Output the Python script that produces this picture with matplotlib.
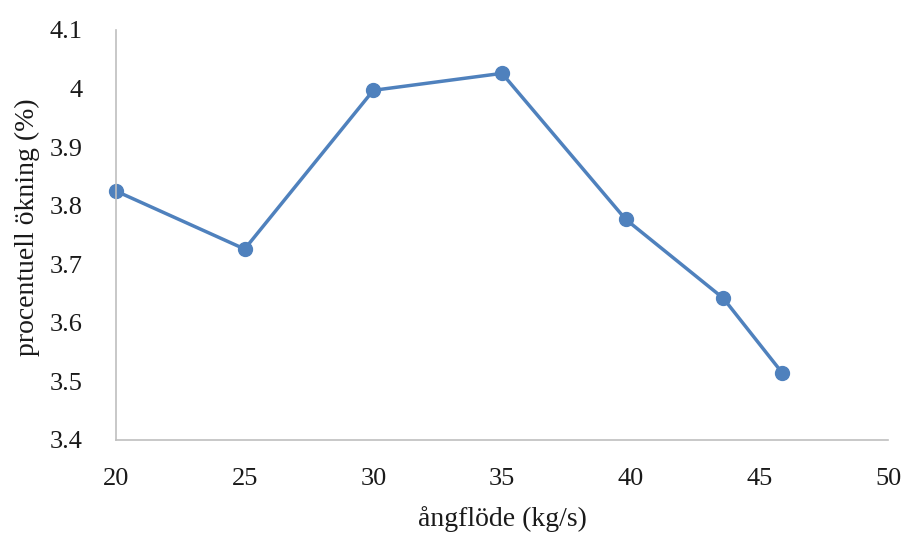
import matplotlib
matplotlib.use("Agg")
import matplotlib.pyplot as plt

# data
flow = [20, 25, 30, 35, 39.8, 43.6, 45.9]
increase = [3.825, 3.726, 3.997, 4.026, 3.777, 3.642, 3.514]

x_ticks = [20, 25, 30, 35, 40, 45, 50]
y_ticks = [3.4, 3.5, 3.6, 3.7, 3.8, 3.9, 4.0, 4.1]
y_labels = ["3.4", "3.5", "3.6", "3.7", "3.8", "3.9", "4", "4.1"]

plt.rcParams["font.family"] = ["Liberation Serif", "DejaVu Serif"]

fig = plt.figure(figsize=(9.06, 5.36), dpi=100)
ax = fig.add_axes([116 / 906, 96 / 536, 772 / 906, 410 / 536])

ax.plot(flow, increase, "-o", color="#4F81BD", linewidth=2.5,
        markersize=10, clip_on=False)

ax.set_xlim(20, 50)
ax.set_ylim(3.4, 4.1)
ax.set_xticks(x_ticks)
ax.set_yticks(y_ticks)
ax.set_yticklabels(y_labels)

for s in ["top", "right"]:
    ax.spines[s].set_visible(False)
for s in ["left", "bottom"]:
    ax.spines[s].set_color("#BFBFBF")
    ax.spines[s].set_linewidth(1.2)

ax.tick_params(axis="x", length=0, pad=20, labelsize=19, colors="#1a1a1a")
ax.tick_params(axis="y", length=0, pad=24, labelsize=19, colors="#1a1a1a")

ax.set_xlabel("ångflöde (kg/s)", fontsize=20, color="#1a1a1a")
ax.set_ylabel("procentuell ökning (%)", fontsize=20, color="#1a1a1a")
ax.xaxis.set_label_coords(0.5, -0.16)
ax.yaxis.set_label_coords(-0.098, 0.52)

fig.savefig("out.png", dpi=100)
